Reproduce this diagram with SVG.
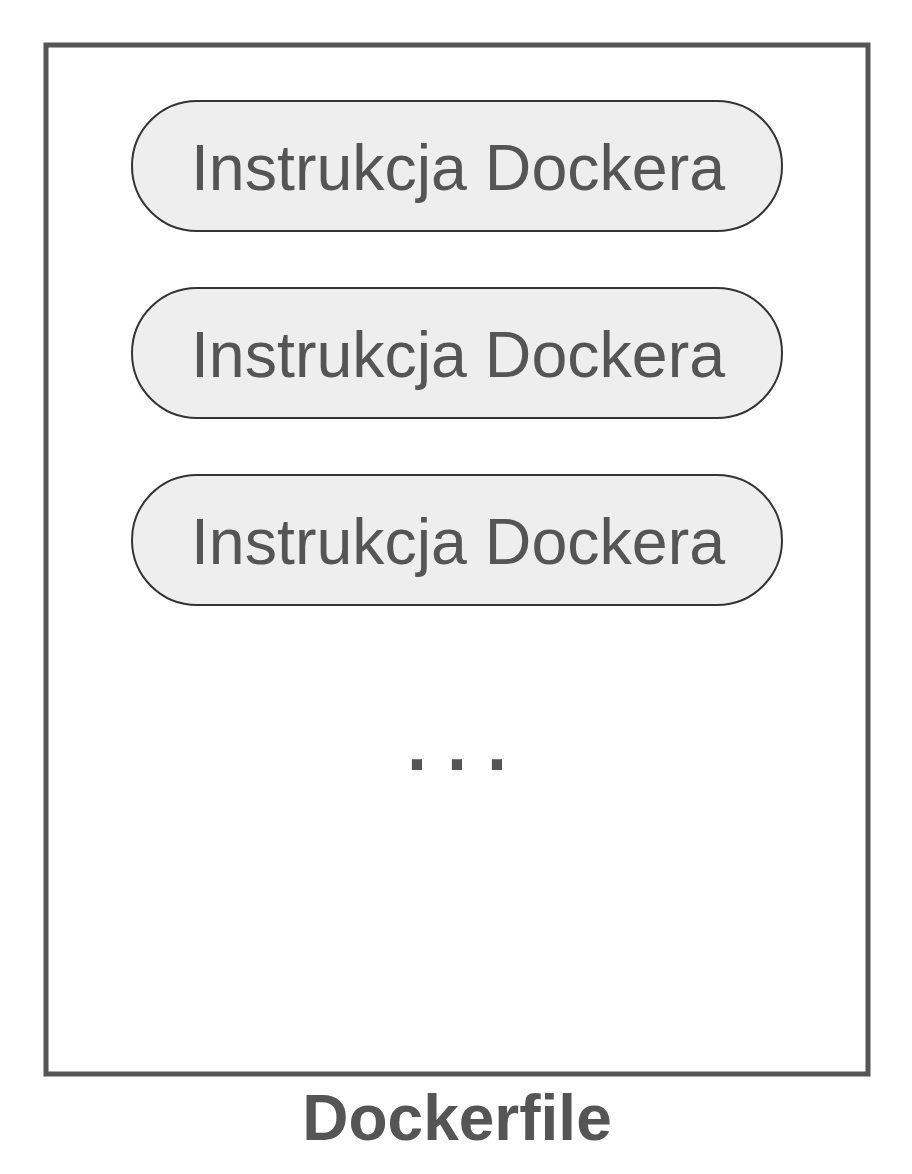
<svg xmlns="http://www.w3.org/2000/svg" width="912" height="1174" viewBox="0 0 912 1174">
<style>
.pill{fill:#eeeeee;stroke:#333;stroke-width:2}
.t{font-family:"Liberation Sans",Arial,sans-serif;font-size:64.5px;fill:#555;text-anchor:middle}
.b{font-family:"Liberation Sans",Arial,sans-serif;font-weight:bold;fill:#555;text-anchor:middle}
</style>
<rect width="912" height="1174" fill="#fff"/>
<g id="dockerfile">
<rect x="46" y="45" width="822" height="1029" fill="#fff" stroke="#555" stroke-width="5"/>
<text class="b" x="457" y="1140" font-size="64">Dockerfile</text>
</g>
<g id="n1"><rect class="pill" x="132" y="101" width="650" height="130" rx="65"/><text class="t" x="458" y="190">Instrukcja Dockera</text></g>
<g id="n2"><rect class="pill" x="132" y="288" width="650" height="130" rx="65"/><text class="t" x="458" y="377">Instrukcja Dockera</text></g>
<g id="n3"><rect class="pill" x="132" y="475" width="650" height="130" rx="65"/><text class="t" x="458" y="564">Instrukcja Dockera</text></g>
<g id="dots"><text class="b" x="467" y="770" font-size="72" letter-spacing="20">...</text></g>
<g id="connectors"/>
</svg>
